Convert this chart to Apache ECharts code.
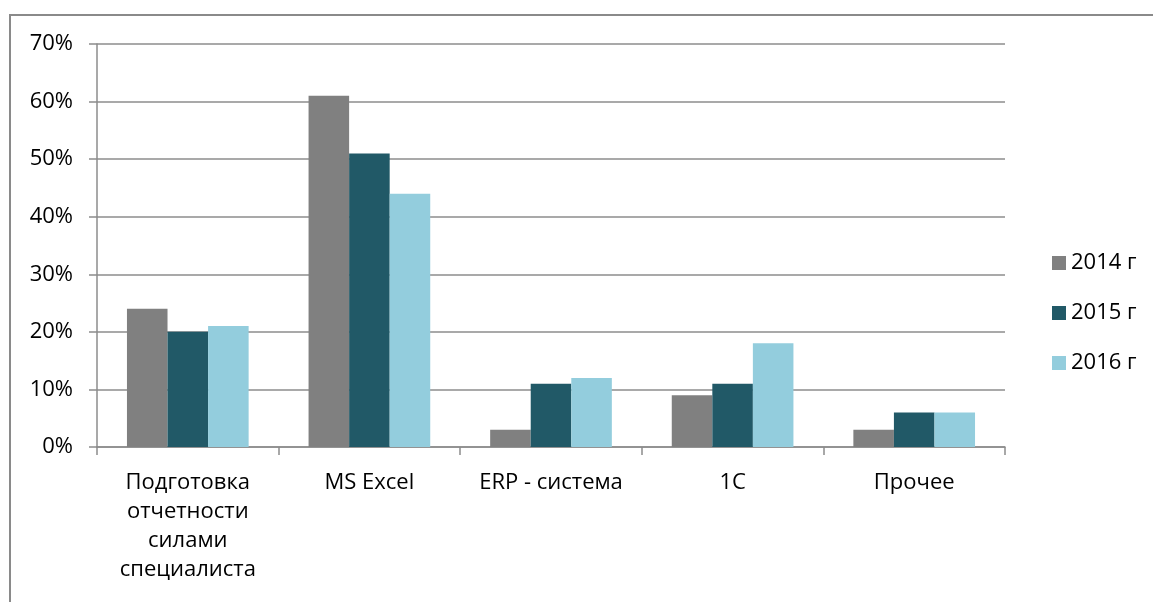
<!DOCTYPE html>
<html><head><meta charset="utf-8">
<script src="https://cdn.jsdelivr.net/npm/echarts@6/dist/echarts.min.js"></script>
<style>html,body{margin:0;padding:0;background:#fff}#c{width:1153px;height:602px}</style>
</head><body><div id="c"></div>
<script>
const categories = ['Подготовка\nотчетности\nсилами\nспециалиста', 'MS Excel', 'ERP - система', '1С', 'Прочее'];
const seriesNames = ['2014 г', '2015 г', '2016 г'];
const v2014 = [24, 61, 3, 9, 3];
const v2015 = [20, 51, 11, 11, 6];
const v2016 = [21, 44, 12, 18, 6];
const colors = ['#808080', '#215967', '#93CDDD'];

const font = 'Open Sans';
const chart = echarts.init(document.getElementById('c'));
chart.setOption({
  animation: false,
  color: colors,
  graphic: [{
    type: 'polyline', shape: { points: [[10, 602], [10, 15], [1153, 15]] },
    style: { stroke: '#8a8a8a', lineWidth: 2, fill: null }
  }],
  grid: { left: 97, right: 148, top: 44, bottom: 155, containLabel: false },
  legend: {
    orient: 'vertical', left: 1047, top: 247,
    itemWidth: 14, itemHeight: 14, itemGap: 28,
    icon: 'rect',
    textStyle: { fontFamily: font, fontSize: 22, color: '#000', padding: [0, 0, 0, 0] },
    data: seriesNames
  },
  xAxis: {
    type: 'category', data: categories,
    axisLine: { lineStyle: { color: '#8c8c8c', width: 1.5 } },
    axisTick: { show: true, length: 8, inside: false, lineStyle: { color: '#8c8c8c', width: 1.5 } },
    axisLabel: { fontFamily: font, fontSize: 22, color: '#000', margin: 21, lineHeight: 29, interval: 0 }
  },
  yAxis: {
    type: 'value', min: 0, max: 70, interval: 10,
    axisLine: { show: true, lineStyle: { color: '#8c8c8c', width: 1.5 } },
    axisTick: { show: true, length: 8, lineStyle: { color: '#8c8c8c', width: 1.5 } },
    splitLine: { lineStyle: { color: '#8c8c8c', width: 1.5 } },
    axisLabel: { fontFamily: font, fontSize: 22, color: '#000', margin: 24, formatter: '{value}%' }
  },
  series: [
    { name: seriesNames[0], type: 'bar', data: v2014, barGap: 0, barCategoryGap: '33%' },
    { name: seriesNames[1], type: 'bar', data: v2015, barGap: 0, barCategoryGap: '33%' },
    { name: seriesNames[2], type: 'bar', data: v2016, barGap: 0, barCategoryGap: '33%' }
  ]
});
</script></body></html>
